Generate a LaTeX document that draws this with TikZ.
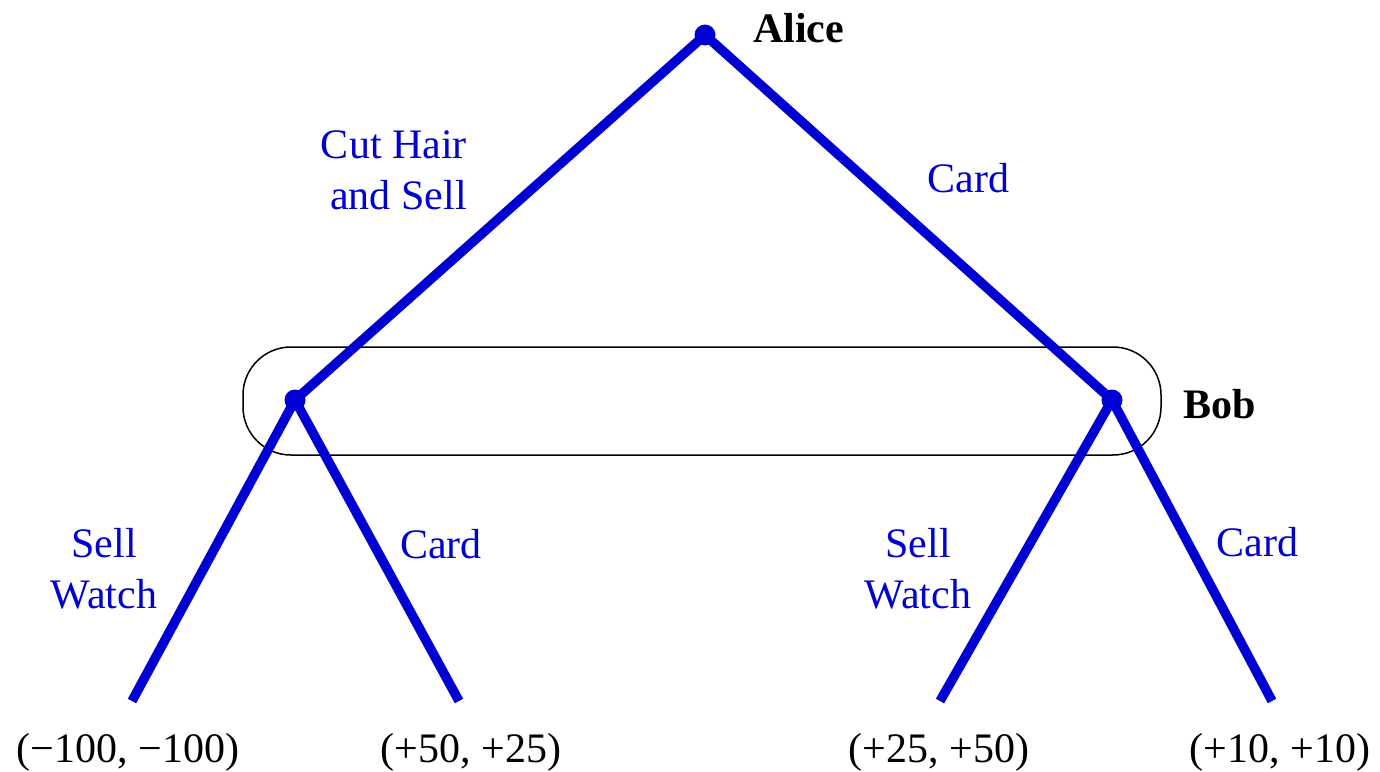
\documentclass[tikz,border=0pt]{standalone}
\usepackage{fontspec}
\setmainfont{Liberation Serif}
\definecolor{moveblue}{RGB}{0,0,210}
\begin{document}
\begin{tikzpicture}[x=1pt,y=-1pt,
  move/.style={line width=9.5pt, draw=moveblue},
  dec/.style={circle, fill=moveblue, inner sep=0pt, minimum size=21pt},
  txt/.style={font=\fontsize{42}{51}\selectfont, inner sep=0pt},
  player/.style={txt, font=\bfseries\fontsize{42}{51}\selectfont, anchor=base west},
  act/.style={txt, text=moveblue, anchor=base},
  pay/.style={txt, anchor=base},
  infoset/.style={draw=black, line width=1.5pt, rounded corners=48pt}]
\useasboundingbox (0,0) rectangle (1380,771);

% positions of the decision points and the terminal ends
\coordinate (a) at (705,35);
\coordinate (bl) at (295,400);
\coordinate (br) at (1112,400);
\coordinate (t1) at (132,701);
\coordinate (t2) at (459,701);
\coordinate (t3) at (940,701);
\coordinate (t4) at (1272,701);

% Bob's information set
\draw[infoset] (243,347) rectangle (1161,455);

% moves
\draw[move] (a) -- (bl);
\draw[move] (a) -- (br);
\draw[move] (bl) -- (t1);
\draw[move] (bl) -- (t2);
\draw[move] (br) -- (t3);
\draw[move] (br) -- (t4);

% decision nodes
\node[dec] (alice) at (a) {};
\node[dec] (bobL) at (bl) {};
\node[dec] (bobR) at (br) {};

% players
\node[player] (lalice) at (753,42) {Alice};
\node[player] (lbob) at (1183,418) {Bob};

% move labels
\node[act, align=right, anchor=north east] (m1) at (467,130) {Cut Hair\\and Sell};
\node[act] (m2) at (968.5,192) {Card};
\node[act, align=center, anchor=north] (m3) at (104,528) {Sell\\Watch};
\node[act] (m4) at (441,558) {Card};
\node[act, align=center, anchor=north] (m5) at (918,528) {Sell\\Watch};
\node[act] (m6) at (1257.5,556) {Card};

% payoffs
\node[pay] (p1) at (128,762) {(−100, −100)};
\node[pay] (p2) at (471,762) {(+50, +25)};
\node[pay] (p3) at (939,762) {(+25, +50)};
\node[pay] (p4) at (1280,762) {(+10, +10)};
\end{tikzpicture}
\end{document}
